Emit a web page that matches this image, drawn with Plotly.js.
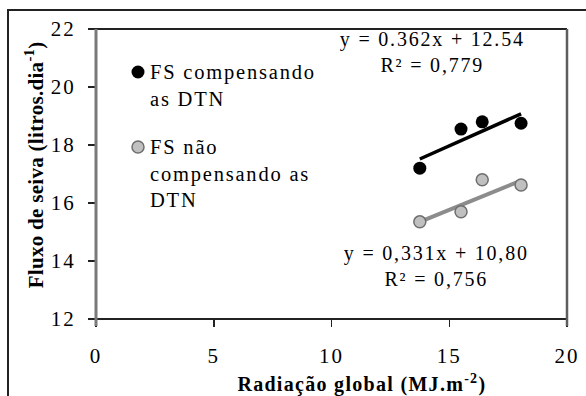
<!DOCTYPE html>
<html>
<head>
<meta charset="utf-8">
<script src="https://cdn.plot.ly/plotly-3.0.1.min.js"></script>
<style>
html,body{margin:0;padding:0;background:#fff;}
#chart{width:586px;height:396px;}
#chart .annotation-text{letter-spacing:1.8px;}
#chart .annotation[data-index="4"] .annotation-text{letter-spacing:1.3px;}
#chart .annotation[data-index="5"] .annotation-text{letter-spacing:0.3px;}
#chart .xtick text, #chart .ytick text{letter-spacing:2px;}
</style>
</head>
<body>
<div id="chart"></div>
<script>
// ---- data ----
const radiacao = [13.75, 15.5, 16.4, 18.05];
const fsCompensando = [17.2, 18.55, 18.8, 18.75];
const fsNaoCompensando = [15.35, 15.7, 16.8, 16.62];
const seriesNames = ["FS compensando as DTN", "FS não compensando as DTN"];
const slopes = [0.362, 0.331];
const intercepts = [12.54, 10.80];
const equationLabels = ["y = 0.362x + 12.54<br>R² = 0,779", "y = 0,331x + 10,80<br>R² = 0,756"];
const legendLabels = ["FS compensando<br>as DTN", "FS não<br>compensando as<br>DTN"];
const xTicks = [0, 5, 10, 15, 20];
const yTicks = [12, 14, 16, 18, 20, 22];

// ---- layout geometry (pixels) ----
const W = 586, H = 396;
const L = 96, R = 567, T = 29, B = 319;
const pw = R - L, ph = B - T;
const px = x => (x - L) / pw;
const py = y => (B - y) / ph;

const FONT = "Liberation Serif";
const dark = "#222222";
const grayAxis = "#7a7a7a";

const xmin = Math.min(...radiacao), xmax = Math.max(...radiacao);
const fitX = [xmin, xmax];
const fitY = (i) => fitX.map(x => slopes[i] * x + intercepts[i]);

const traces = [
  {x: fitX, y: fitY(1), mode: "lines", line: {color: "#8c8c8c", width: 4}, showlegend: false, hoverinfo: "skip"},
  {x: fitX, y: fitY(0), mode: "lines", line: {color: "#000000", width: 3.5}, showlegend: false, hoverinfo: "skip"},
  {x: radiacao, y: fsNaoCompensando, mode: "markers", name: seriesNames[1],
   marker: {size: 12, color: "#c0c0c0", line: {color: "#6e6e6e", width: 1.5}}, showlegend: false},
  {x: radiacao, y: fsCompensando, mode: "markers", name: seriesNames[0],
   marker: {size: 13, color: "#000000", line: {color: "#000000", width: 0}}, showlegend: false}
];

const annotations = [];
// equations (index 0,1)
const eqPos = [[432, 52], [436, 266]];
equationLabels.forEach((t, i) => {
  annotations.push({xref: "paper", yref: "paper", x: px(eqPos[i][0]), y: py(eqPos[i][1]),
    xanchor: "center", yanchor: "middle", align: "center", text: t, showarrow: false,
    font: {family: FONT, size: 20, color: "#000"}});
});
// legend text (index 2,3)
const legTop = [59, 134];
legendLabels.forEach((t, i) => {
  annotations.push({xref: "paper", yref: "paper", x: px(148), y: py(legTop[i]),
    xanchor: "left", yanchor: "top", align: "left", text: t, showarrow: false,
    font: {family: FONT, size: 20.5, color: "#000"}});
});
// axis titles (index 4,5)
annotations.push({xref: "paper", yref: "paper", x: px(362), y: py(383), xanchor: "center", yanchor: "middle",
  text: "<b>Radiação global (MJ.m<sup>-2</sup>)</b>", showarrow: false, font: {family: FONT, size: 20, color: "#000"}});
annotations.push({xref: "paper", yref: "paper", x: px(34), y: py(165), xanchor: "center", yanchor: "middle",
  text: "<b>Fluxo de seiva (litros.dia<sup>-1</sup>)</b>", textangle: -90, showarrow: false,
  font: {family: FONT, size: 21, color: "#000"}});

const shapes = [
  // outer frame
  {type: "rect", xref: "paper", yref: "paper", x0: px(8), x1: px(640), y0: py(460), y1: py(10),
   line: {color: dark, width: 2}, fillcolor: "rgba(0,0,0,0)", layer: "below"},
  // plot frame
  {type: "line", xref: "paper", yref: "paper", x0: px(89), x1: px(R), y0: 1, y1: 1, line: {color: dark, width: 2}},
  {type: "line", xref: "paper", yref: "paper", x0: px(89), x1: px(R), y0: 0, y1: 0, line: {color: dark, width: 2}},
  {type: "line", xref: "paper", yref: "paper", x0: 0, x1: 0, y0: py(326), y1: 1, line: {color: grayAxis, width: 3}},
  {type: "line", xref: "paper", yref: "paper", x0: 1, x1: 1, y0: py(326), y1: 1, line: {color: "#5e5e5e", width: 2.5}},
  // legend markers
  {type: "circle", xref: "paper", yref: "paper", x0: px(131.5), x1: px(144.5), y0: py(78.5), y1: py(65.5),
   fillcolor: "#000", line: {color: "#000", width: 0}},
  {type: "circle", xref: "paper", yref: "paper", x0: px(132), x1: px(144), y0: py(153), y1: py(141),
   fillcolor: "#c0c0c0", line: {color: "#6e6e6e", width: 1.5}}
];

const layout = {
  width: W, height: H,
  margin: {l: L, r: W - R, t: T, b: H - B, pad: 0},
  paper_bgcolor: "#fff", plot_bgcolor: "#fff",
  showlegend: false,
  xaxis: {range: [0, 20], tickvals: xTicks, ticktext: xTicks.map(String), showgrid: false, zeroline: false,
    showline: false, ticks: "outside", ticklen: 7, tickwidth: 1.5, tickcolor: dark,
    ticklabelstandoff: 11, tickfont: {family: FONT, size: 21, color: "#000"}},
  yaxis: {range: [12, 22], tickvals: yTicks, ticktext: yTicks.map(String), showgrid: false, zeroline: false,
    showline: false, ticks: "outside", ticklen: 7, tickwidth: 1.5, tickcolor: dark,
    ticklabelstandoff: 8, tickfont: {family: FONT, size: 21, color: "#000"}},
  annotations: annotations,
  shapes: shapes
};

Plotly.newPlot("chart", traces, layout, {staticPlot: true, displayModeBar: false});
</script>
</body>
</html>
